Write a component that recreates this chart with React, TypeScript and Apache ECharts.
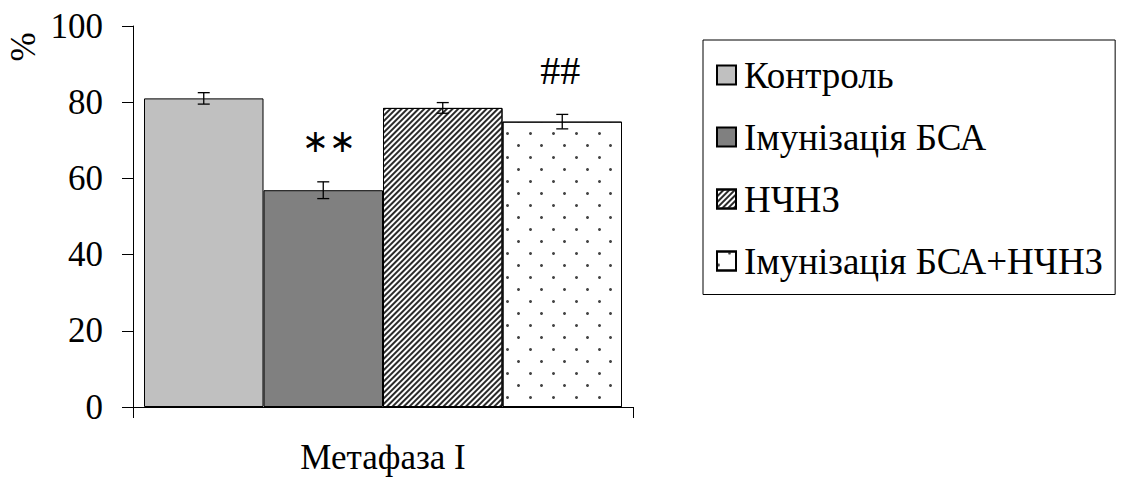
import React, { useEffect, useRef } from "react";
import * as echarts from "echarts";

const categories = ["Метафаза I"];
const seriesNames = ["Контроль", "Імунізація БСА", "НЧНЗ", "Імунізація БСА+НЧНЗ"];
const values = [81.0, 56.9, 78.5, 74.9];
const errors = [1.5, 2.2, 1.4, 1.9];
const marks = ["", "∗∗", "", "##"];
const yTicks = { min: 0, max: 100, interval: 20 };

const FONT = "Liberation Serif";
const GAP = 0.044;

export default function App() {
  const ref = useRef<HTMLDivElement>(null);
  useEffect(() => {
    if (!ref.current) return;
    const chart = echarts.init(ref.current, null, { renderer: "svg" });
    const styles = [
      { color: "#c0c0c0", borderColor: "#000", borderWidth: 1 },
      { color: "#808080", borderColor: "#000", borderWidth: 1 },
      {
        color: "#ffffff",
        borderColor: "#000",
        borderWidth: 1,
        decal: {
          symbol: "rect",
          color: "#2a2a2a",
          backgroundColor: "#ffffff",
          dashArrayX: [1, 0],
          dashArrayY: [1.7, 1.9],
          rotation: -Math.PI / 4,
          symbolSize: 1,
        },
      },
      {
        color: "#ffffff",
        borderColor: "#000",
        borderWidth: 1,
        decal: {
          symbol: "circle",
          color: "#444444",
          backgroundColor: "#ffffff",
          dashArrayX: [[2.6, 19.1], [0, 10.85, 2.6, 8.25]],
          dashArrayY: [2.6, 8.1],
          rotation: 0,
          symbolSize: 1,
        },
      },
    ];
    const barSeries = seriesNames.map((name, i) => ({
      type: "bar",
      name,
      data: [values[i]],
      barGap: "0%",
      barCategoryGap: GAP * 100 + "%",
      itemStyle: styles[i],
      emphasis: { disabled: true },
    }));
    const errData = values.map((v, i) => [0, v, errors[i], i]);
    const errSeries = {
      type: "custom",
      name: "err",
      data: errData,
      encode: { x: 0, y: 1 },
      z: 10,
      renderItem: (params: any, api: any) => {
        const v = api.value(1);
        const e = api.value(2);
        const idx = api.value(3);
        const mark = marks[idx];
        const center = api.coord([0, v]);
        const band = api.size([1, 0])[0];
        const barW = (band * (1 - GAP)) / 4;
        const cx = center[0] + (idx - 1.5) * barW;
        const top = api.coord([0, v + e])[1];
        const bot = api.coord([0, v - e])[1];
        const cap = 6;
        const ls = { stroke: "#000", lineWidth: 1.3 };
        const children: any[] = [
          { type: "line", shape: { x1: cx, y1: top, x2: cx, y2: bot }, style: ls },
          { type: "line", shape: { x1: cx - cap, y1: top, x2: cx + cap, y2: top }, style: ls },
          { type: "line", shape: { x1: cx - cap, y1: bot, x2: cx + cap, y2: bot }, style: ls },
        ];
        if (mark) {
          const isStar = mark.indexOf("∗") >= 0;
          children.push({
            type: "text",
            x: cx + (isStar ? 6 : -2),
            y: top - (isStar ? 41 : 44),
            style: {
              text: mark,
              fontSize: isStar ? 32 : 40,
              fontFamily: FONT,
              fill: "#000",
              align: "center",
              verticalAlign: "middle",
            },
          });
        }
        return { type: "group", children };
      },
    };
    chart.setOption({
      animation: false,
      backgroundColor: "#ffffff",
      grid: { left: 133, top: 26, width: 500, height: 381 },
      legend: {
        data: seriesNames,
        orient: "vertical",
        left: 703,
        top: 40,
        itemWidth: 19,
        itemHeight: 19,
        itemGap: 25,
        padding: [16.5, 12, 15, 13],
        borderColor: "#000",
        borderWidth: 1,
        icon: "rect",
        selectedMode: false,
        textStyle: { fontSize: 37, fontFamily: FONT, color: "#000", lineHeight: 36, padding: [0, 0, 0, 3] },
      },
      xAxis: {
        type: "category",
        data: categories,
        axisLine: { lineStyle: { color: "#000", width: 1 } },
        axisTick: { show: true, length: 11, lineStyle: { color: "#000" } },
        axisLabel: { fontSize: 35, fontFamily: FONT, color: "#000", margin: 35, lineHeight: 30 },
      },
      yAxis: {
        type: "value",
        min: yTicks.min,
        max: yTicks.max,
        interval: yTicks.interval,
        splitLine: { show: false },
        axisLine: { show: true, lineStyle: { color: "#000", width: 1 } },
        axisTick: { show: true, length: 11, lineStyle: { color: "#000" } },
        axisLabel: { fontSize: 35, fontFamily: FONT, color: "#000", margin: 30 },
      },
      graphic: [
        {
          type: "text",
          x: 23,
          y: 47,
          rotation: Math.PI / 2,
          style: {
            text: "%",
            fontSize: 35,
            fontFamily: FONT,
            fill: "#000",
            align: "center",
            verticalAlign: "middle",
          },
        },
      ],
      series: [...barSeries, errSeries],
    });
    return () => chart.dispose();
  }, []);
  return (
    <div
      ref={ref}
      style={{ position: "fixed", left: 0, top: 0, width: 1128, height: 479, background: "#fff" }}
    />
  );
}
